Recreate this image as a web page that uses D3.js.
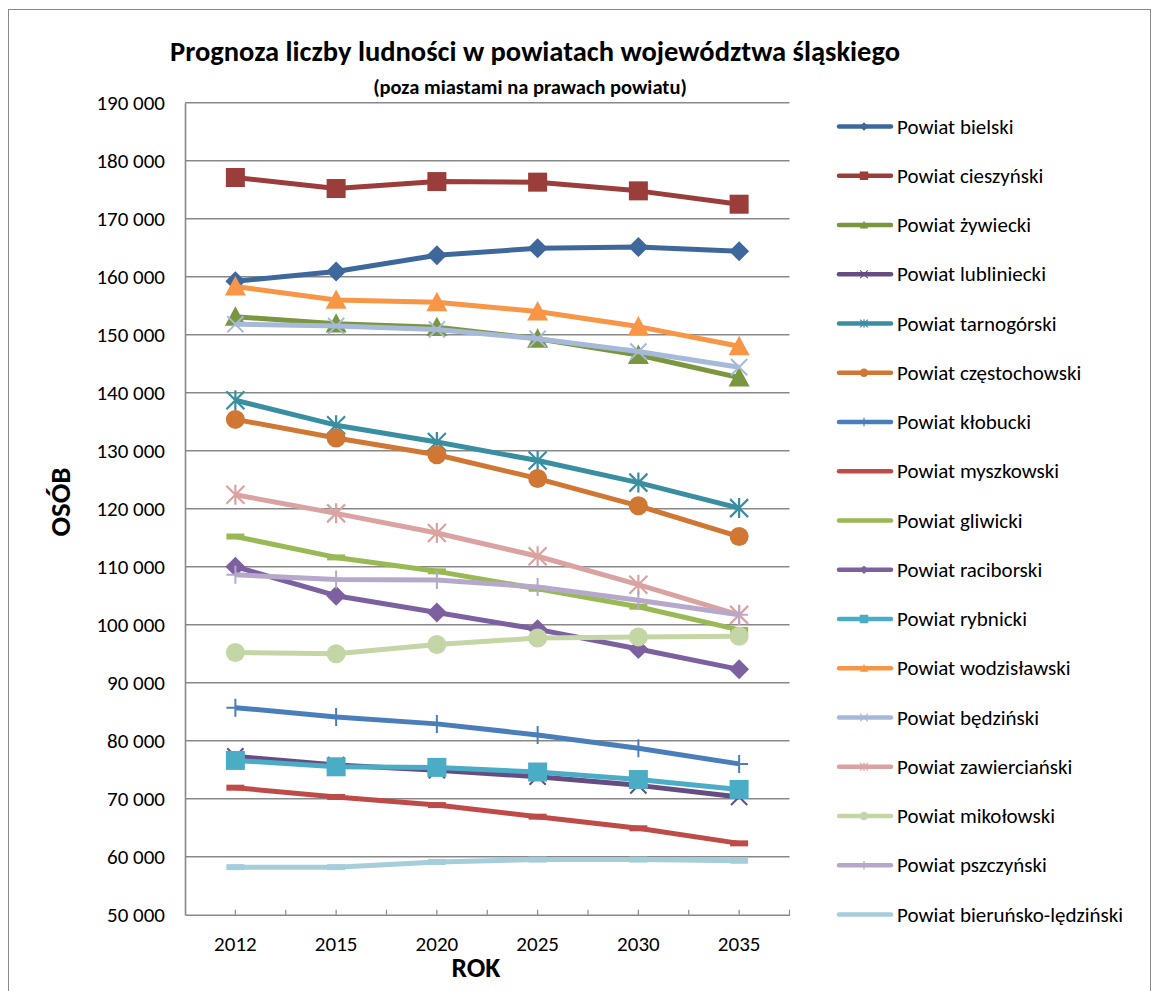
<!DOCTYPE html>
<html>
<head>
<meta charset="utf-8">
<script src="https://cdn.jsdelivr.net/npm/d3@7"></script>
<style>
  html, body { margin: 0; padding: 0; background: #fff; }
  svg { display: block; }
  text { font-family: Carlito, Lato, "Liberation Sans", sans-serif; fill: #000; }
</style>
</head>
<body>
<svg id="chart" width="1153" height="991"></svg>
<script>
// ---- data ----
const years = ["2012", "2015", "2020", "2025", "2030", "2035"];
const yTicks = [50000, 60000, 70000, 80000, 90000, 100000, 110000, 120000, 130000, 140000, 150000, 160000, 170000, 180000, 190000];

const seriesNames = [
  "Powiat bielski", "Powiat cieszyński", "Powiat żywiecki", "Powiat lubliniecki",
  "Powiat tarnogórski", "Powiat częstochowski", "Powiat kłobucki", "Powiat myszkowski",
  "Powiat gliwicki", "Powiat raciborski", "Powiat rybnicki", "Powiat wodzisławski",
  "Powiat będziński", "Powiat zawierciański", "Powiat mikołowski", "Powiat pszczyński",
  "Powiat bieruńsko-lędziński"
];

const bielski       = [159200, 160900, 163700, 164900, 165100, 164400];
const cieszynski    = [177100, 175200, 176400, 176300, 174800, 172500];
const zywiecki      = [153100, 151900, 151300, 149300, 146500, 142600];
const lubliniecki   = [77300, 75800, 74900, 73800, 72300, 70300];
const tarnogorski   = [138700, 134400, 131500, 128300, 124500, 120100];
const czestochowski = [135400, 132200, 129300, 125200, 120500, 115200];
const klobucki      = [85700, 84100, 82900, 81000, 78700, 76000];
const myszkowski    = [71900, 70300, 68900, 66900, 64900, 62300];
const gliwicki      = [115200, 111600, 109200, 106200, 103100, 99100];
const raciborski    = [110000, 105000, 102100, 99200, 95800, 92300];
const rybnicki      = [76600, 75500, 75400, 74600, 73300, 71600];
const wodzislawski  = [158300, 156000, 155600, 154000, 151400, 148000];
const bedzinski     = [151800, 151500, 150900, 149300, 147100, 144400];
const zawiercianski = [122400, 119200, 115800, 111800, 106900, 101700];
const mikolowski    = [95200, 95000, 96600, 97700, 97900, 98000];
const pszczynski    = [108600, 107800, 107700, 106500, 104200, 101700];
const bierunski     = [58200, 58200, 59100, 59500, 59500, 59300];

const seriesValues = [bielski, cieszynski, zywiecki, lubliniecki, tarnogorski, czestochowski,
  klobucki, myszkowski, gliwicki, raciborski, rybnicki, wodzislawski, bedzinski,
  zawiercianski, mikolowski, pszczynski, bierunski];

const seriesColors = ["#3E689B", "#9B3D3A", "#7A973F", "#654C83", "#3A8EA2", "#D07734",
  "#4A7EBB", "#BE4B48", "#98B954", "#7D60A0", "#4BACC6", "#F79646",
  "#A7B9D9", "#DAA3A1", "#C4D6A6", "#B6A8CB", "#A5CDDA"];

const seriesMarkers = ["diamond", "square", "triangle", "x", "star", "circle", "plus", "dash",
  "dash", "diamond", "square", "triangle", "x", "star", "circle", "plus", "dash"];

// ---- layout ----
const svg = d3.select("#chart");
const pLeft = 185, pRight = 789.5, pTop = 102.7, pBottom = 914.7;
const tickFont = 21;

const x = d3.scaleBand().domain(years).range([pLeft, pRight]);
const y = d3.scaleLinear().domain([50000, 190000]).range([pBottom, pTop]);
const fmt = v => d3.format(",")(v).replace(/,/g, " ");

// outer frame
svg.append("rect").attr("x", 8.5).attr("y", 9.5).attr("width", 1142).attr("height", 1000)
  .attr("fill", "none").attr("stroke", "#8a8a8a").attr("stroke-width", 1);

// gridlines
svg.append("g").selectAll("line").data(yTicks.slice(1)).join("line")
  .attr("x1", pLeft).attr("x2", pRight)
  .attr("y1", d => y(d)).attr("y2", d => y(d))
  .attr("stroke", "#888888").attr("stroke-width", 1.6);

// y axis
const yAxis = svg.append("g").attr("transform", `translate(${pLeft},0)`)
  .call(d3.axisLeft(y).tickValues(yTicks).tickFormat(fmt).tickSize(0).tickPadding(20));
yAxis.select(".domain").attr("stroke", "#888888").attr("stroke-width", 1.6);
yAxis.selectAll("text").attr("font-size", tickFont).style("font-family", "Carlito, Lato, sans-serif").attr("fill", "#000");

// x axis
const xAxis = svg.append("g").attr("transform", `translate(0,${pBottom})`)
  .call(d3.axisBottom(x).tickSize(0).tickPadding(21));
xAxis.select(".domain").attr("stroke", "#888888").attr("stroke-width", 1.6);
xAxis.selectAll("text").attr("font-size", tickFont).style("font-family", "Carlito, Lato, sans-serif").attr("fill", "#000");

// x minor ticks (half-band), pointing up
const halfTicks = [];
years.forEach(yr => { halfTicks.push(x(yr) + x.bandwidth() / 2); halfTicks.push(x(yr) + x.bandwidth()); });
svg.append("g").selectAll("line").data(halfTicks).join("line")
  .attr("x1", d => d).attr("x2", d => d)
  .attr("y1", pBottom).attr("y2", pBottom - 5)
  .attr("stroke", "#888888").attr("stroke-width", 1.2);

// titles
svg.append("text").attr("x", 535).attr("y", 61).attr("text-anchor", "middle")
  .attr("font-size", 28.5).attr("font-weight", "bold")
  .text("Prognoza liczby ludności w powiatach województwa śląskiego");
svg.append("text").attr("x", 530).attr("y", 94).attr("text-anchor", "middle")
  .attr("font-size", 20.5).attr("font-weight", "bold")
  .text("(poza miastami na prawach powiatu)");
svg.append("text").attr("x", 476).attr("y", 977).attr("text-anchor", "middle")
  .attr("font-size", 27.5).attr("font-weight", "bold").text("ROK");
svg.append("text").attr("transform", "translate(70,502) rotate(-90)").attr("text-anchor", "middle")
  .attr("font-size", 29).attr("font-weight", "bold").text("OSÓB");

// marker drawing
function drawMarker(g, type, color, s) {
  const h = s / 2;
  if (type === "diamond") {
    g.append("path").attr("d", `M0,${-h}L${h},0L0,${h}L${-h},0Z`).attr("fill", color);
  } else if (type === "square") {
    g.append("rect").attr("x", -h).attr("y", -h).attr("width", s).attr("height", s).attr("fill", color);
  } else if (type === "triangle") {
    g.append("path").attr("d", `M0,${-h}L${h},${h * 0.85}L${-h},${h * 0.85}Z`).attr("fill", color);
  } else if (type === "circle") {
    g.append("circle").attr("r", h).attr("fill", color);
  } else if (type === "x") {
    const k = h * 0.9;
    g.append("path").attr("d", `M${-k},${-k}L${k},${k}M${-k},${k}L${k},${-k}`)
      .attr("stroke", color).attr("stroke-width", Math.max(1.2, s / 9)).attr("fill", "none");
  } else if (type === "star") {
    const k = h * 0.9;
    g.append("path").attr("d", `M${-k},${-k}L${k},${k}M${-k},${k}L${k},${-k}M0,${-h}L0,${h}`)
      .attr("stroke", color).attr("stroke-width", Math.max(1.2, s / 9)).attr("fill", "none");
  } else if (type === "plus") {
    g.append("path").attr("d", `M${-h},0L${h},0M0,${-h}L0,${h}`)
      .attr("stroke", color).attr("stroke-width", Math.max(1.2, s / 9)).attr("fill", "none");
  } else if (type === "dash") {
    g.append("rect").attr("x", -h).attr("y", -3).attr("width", s).attr("height", 6).attr("fill", color);
  }
}

// series
const line = d3.line().x((d, i) => x(years[i]) + x.bandwidth() / 2).y(d => y(d));
const plot = svg.append("g");
seriesValues.forEach((vals, si) => {
  const g = plot.append("g");
  g.append("path").datum(vals).attr("d", line)
    .attr("fill", "none").attr("stroke", seriesColors[si]).attr("stroke-width", 5)
    .attr("stroke-linejoin", "round").attr("stroke-linecap", "butt");
  const size = { diamond: 20, square: 19, triangle: 21, circle: 19, x: 18, star: 20, plus: 18, dash: 18 }[seriesMarkers[si]];
  vals.forEach((v, i) => {
    const mg = g.append("g").attr("transform", `translate(${x(years[i]) + x.bandwidth() / 2},${y(v)})`);
    drawMarker(mg, seriesMarkers[si], seriesColors[si], size);
  });
});

// legend
const legend = svg.append("g");
seriesNames.forEach((name, i) => {
  const ly = 126.5 + i * 49.25;
  const lg = legend.append("g").attr("transform", `translate(0,${ly})`);
  lg.append("line").attr("x1", 839).attr("x2", 891).attr("y1", 0).attr("y2", 0)
    .attr("stroke", seriesColors[i]).attr("stroke-width", 4.5).attr("stroke-linecap", "round");
  const mg = lg.append("g").attr("transform", "translate(864,0)");
  if (seriesMarkers[i] !== "dash") drawMarker(mg, seriesMarkers[i], seriesColors[i], 8.5);
  lg.append("text").attr("x", 897).attr("y", 7).attr("font-size", 21).text(name);
});
</script>
</body>
</html>
